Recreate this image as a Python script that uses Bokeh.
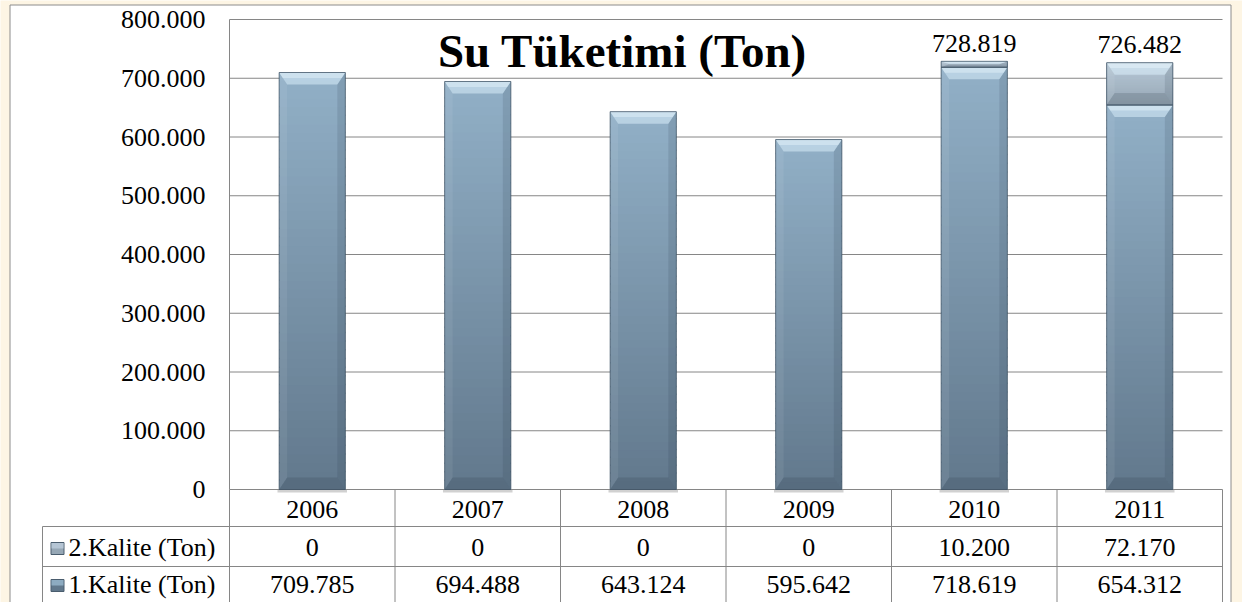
import numpy as np
from bokeh.plotting import figure
from bokeh.models import Range1d, FixedTicker, CustomJSTickFormatter, Label
from bokeh.core.properties import value
from bokeh.embed import file_html
from bokeh.resources import INLINE

# ---------------- data ----------------
years = ["2006", "2007", "2008", "2009", "2010", "2011"]
kalite1 = [709785, 694488, 643124, 595642, 718619, 654312]   # 1.Kalite (Ton)
kalite2 = [0, 0, 0, 0, 10200, 72170]                          # 2.Kalite (Ton)
series_names = ["2.Kalite (Ton)", "1.Kalite (Ton)"]
y_ticks = [0, 100000, 200000, 300000, 400000, 500000, 600000, 700000, 800000]
title_text = "Su Tüketimi (Ton)"

# ---------------- layout / style ----------------
FONT = "Liberation Serif"
GRID = "#868686"
CREAM = "#fdf5e4"
W, H = 1242, 602
PX_X = 165.5          # pixels per category
PX_Y = 0.0005875      # pixels per ton
X0_PX, Y0_PX = 229, 489   # pixel position of the plot origin
BAR_W = 0.4


def dx(px):
    return (px - X0_PX) / PX_X


def dy(py):
    return (Y0_PX - py) / PX_Y


S1_TOP, S1_BOT = (0x92, 0xB0, 0xC7), (0x61, 0x78, 0x8C)
S2_TOP, S2_BOT = (0xB8, 0xC9, 0xD7), (0x96, 0xA7, 0xB5)


def fmt(v):
    return f"{v:,}".replace(",", ".")


def hexc(c):
    return "#%02x%02x%02x" % tuple(int(round(v)) for v in c)


p = figure(width=W, height=H, x_range=Range1d(dx(0), dx(W)), y_range=Range1d(dy(H), dy(0)),
           output_backend="svg", toolbar_location=None, x_axis_location=None,
           min_border=0, min_border_left=0, min_border_right=0, min_border_top=0,
           min_border_bottom=0, background_fill_color=CREAM, border_fill_color=CREAM,
           outline_line_color=None)
p.xgrid.visible = False
p.ygrid.visible = False

# white chart panel
p.quad(left=[dx(9.5)], right=[dx(1230.5)], top=[dy(4.5)], bottom=[dy(H + 10)],
       fill_color="white", line_color="#8c8c8c", line_width=1)

# y axis placed at x=0 inside the panel
p.yaxis.fixed_location = 0
p.yaxis.bounds = (0, y_ticks[-1])
p.yaxis.ticker = FixedTicker(ticks=y_ticks)
p.yaxis.formatter = CustomJSTickFormatter(
    code="return Math.round(tick).toString().replace(/\\B(?=(\\d{3})+(?!\\d))/g, '.');")
p.yaxis.axis_line_color = GRID
p.yaxis.major_tick_line_color = None
p.yaxis.major_tick_out = 0
p.yaxis.major_tick_in = 0
p.yaxis.minor_tick_line_color = None
p.yaxis.major_label_standoff = 24
p.yaxis.major_label_text_font = FONT
p.yaxis.major_label_text_font_size = "26px"
p.yaxis.major_label_text_color = "black"

ncat = len(years)
# horizontal gridlines across the categories
p.segment(x0=[0] * len(y_ticks), y0=y_ticks, x1=[ncat] * len(y_ticks), y1=y_ticks,
          line_color=GRID, line_width=1)

xc = np.arange(ncat) + 0.5
k1 = np.array(kalite1, dtype=float)
k2 = np.array(kalite2, dtype=float)

segments = []  # (center, bottom, top, topcolor, botcolor)
for i in range(ncat):
    segments.append((xc[i], 0.0, k1[i], S1_TOP, S1_BOT))
    if k2[i] > 0:
        segments.append((xc[i], k1[i], k1[i] + k2[i], S2_TOP, S2_BOT))

# soft shadow under bars
p.quad(left=xc - BAR_W / 2 - 0.01, right=xc + BAR_W / 2 + 0.01,
       bottom=-3 / PX_Y, top=0, fill_color="#9a9a9a", fill_alpha=0.45, line_color=None)

# gradient slices
N = 48
L, R, B, T, C = [], [], [], [], []
for (c, b, t, ct, cb) in segments:
    edges = np.linspace(b, t, N + 1)
    for k in range(N):
        f = (k + 0.5) / N
        col = tuple(cb[j] + (ct[j] - cb[j]) * f for j in range(3))
        L.append(c - BAR_W / 2)
        R.append(c + BAR_W / 2)
        B.append(edges[k])
        T.append(min(edges[k + 1] + 1.5 / PX_Y, t))
        C.append(hexc(col))
p.quad(left=L, right=R, bottom=B, top=T, fill_color=C, line_color=None)

# bevels
d = 8 / PX_X
top_xs, top_ys, top2_xs, top2_ys = [], [], [], []
rgt_xs, rgt_ys, lft_xs, lft_ys, bot_xs, bot_ys = [], [], [], [], [], []
for (c, b, t, ct, cb) in segments:
    x0, x1 = c - BAR_W / 2, c + BAR_W / 2
    h = min(12 / PX_Y, (t - b) / 2)
    h2 = h * 0.45
    top_xs.append([x0, x1, x1 - d, x0 + d]); top_ys.append([t, t, t - h, t - h])
    top2_xs.append([x0, x1, x1 - d * 0.45, x0 + d * 0.45]); top2_ys.append([t, t, t - h2, t - h2])
    rgt_xs.append([x1, x1, x1 - d, x1 - d]); rgt_ys.append([t, b, b + h, t - h])
    lft_xs.append([x0, x0, x0 + d, x0 + d]); lft_ys.append([t, b, b + h, t - h])
    bot_xs.append([x0, x1, x1 - d, x0 + d]); bot_ys.append([b, b, b + h, b + h])
p.patches(lft_xs, lft_ys, fill_color="white", fill_alpha=0.07, line_color=None)
p.patches(rgt_xs, rgt_ys, fill_color="#1c2c3a", fill_alpha=0.13, line_color=None)
p.patches(bot_xs, bot_ys, fill_color="#1c2c3a", fill_alpha=0.16, line_color=None)
p.patches(top_xs, top_ys, fill_color="#dff3ff", fill_alpha=0.5, line_color=None)
p.patches(top2_xs, top2_ys, fill_color="#eefaff", fill_alpha=0.4, line_color=None)
p.quad(left=[s[0] - BAR_W / 2 for s in segments], right=[s[0] + BAR_W / 2 for s in segments],
       bottom=[s[1] for s in segments], top=[s[2] for s in segments],
       fill_color=None, line_color="#3b4f62", line_alpha=0.75, line_width=1)

# total labels above stacked bars
tot = k1 + k2
lab_idx = [i for i in range(ncat) if k2[i] > 0]
p.text(x=[xc[i] for i in lab_idx], y=[tot[i] + 18 / PX_Y for i in lab_idx],
       text=[fmt(int(tot[i])) for i in lab_idx], text_font=value(FONT), text_font_size="26px",
       text_align="center", text_baseline="middle", text_color="black")

# title
p.add_layout(Label(x=dx(622), y=dy(50), text=title_text,
                   text_font=FONT, text_font_size="47px", text_font_style="bold",
                   text_align="center", text_baseline="middle", text_color="black"))

# ---------------- data table ----------------
ROW1, ROW2, BOTTOM = dy(526), dy(566), dy(H + 10)
LBL_LEFT = dx(42)
p.segment(x0=list(range(0, ncat + 1)), y0=[0] * (ncat + 1), x1=list(range(0, ncat + 1)),
          y1=[BOTTOM] * (ncat + 1), line_color=GRID, line_width=1)
p.segment(x0=[LBL_LEFT], y0=[ROW1], x1=[LBL_LEFT], y1=[BOTTOM], line_color=GRID, line_width=1)
p.segment(x0=[LBL_LEFT, LBL_LEFT], y0=[ROW1, ROW2], x1=[ncat, ncat], y1=[ROW1, ROW2],
          line_color=GRID, line_width=1)

tfont = dict(text_font=value(FONT), text_font_size="26px", text_color="black")
p.text(x=list(xc), y=[dy(508.5)] * ncat, text=years, text_align="center",
       text_baseline="middle", **tfont)
p.text(x=list(xc), y=[dy(547)] * ncat, text=[fmt(v) for v in kalite2], text_align="center",
       text_baseline="middle", **tfont)
p.text(x=list(xc), y=[dy(584)] * ncat, text=[fmt(v) for v in kalite1], text_align="center",
       text_baseline="middle", **tfont)
p.text(x=[dx(68)] * 2, y=[dy(547), dy(584)], text=series_names, text_align="left",
       text_baseline="middle", **tfont)

# legend keys
p.quad(left=[dx(50.5)] * 2, right=[dx(63.5)] * 2, top=[dy(542), dy(579)],
       bottom=[dy(554), dy(591)],
       fill_color=[hexc(S2_BOT), hexc(S1_BOT)], line_color="#4a5d6e", line_width=1)
p.quad(left=[dx(51)] * 2, right=[dx(63)] * 2, top=[dy(542.5), dy(579.5)],
       bottom=[dy(548), dy(585)],
       fill_color=[hexc(S2_TOP), hexc(S1_TOP)], fill_alpha=0.9, line_color=None)

open("out.html", "w").write(file_html(p, INLINE))
